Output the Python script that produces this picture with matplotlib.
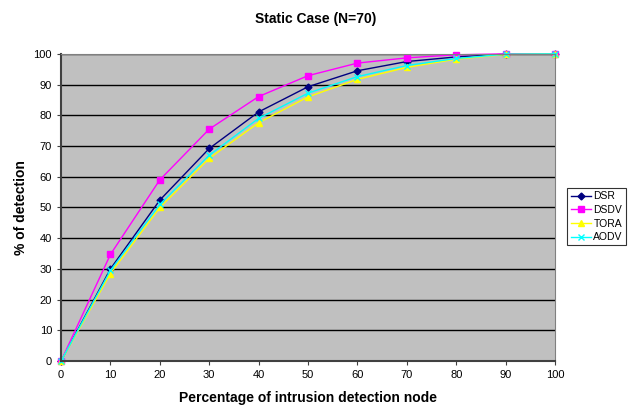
import numpy as np
import matplotlib.pyplot as plt

plt.rcParams['font.family'] = ['Liberation Sans', 'DejaVu Sans']

x = [0, 10, 20, 30, 40, 50, 60, 70, 80, 90, 100]
dsr = [0, 30, 52.4, 69.2, 81.1, 89.3, 94.5, 97.5, 99.0, 99.9, 100]
dsdv = [0, 34.7, 59, 75.5, 86.1, 92.9, 97.0, 98.7, 99.7, 100, 100]
tora = [0, 28.5, 50, 66, 77.6, 86.0, 91.7, 95.6, 98.3, 99.8, 100]
aodv = [0, 29.5, 51, 67, 79, 87.2, 92.6, 96.2, 98.5, 99.9, 100]

fig = plt.figure(figsize=(6.31, 4.08), dpi=100)
ax = fig.add_axes([0.0967, 0.115, 0.783, 0.753])
ax.set_facecolor('#C0C0C0')

ax.plot(x, dsr, color='#000080', marker='D', markersize=3.5, lw=1, label='DSR', clip_on=False)
ax.plot(x, dsdv, color='#FF00FF', marker='s', markersize=4.5, lw=1, label='DSDV', clip_on=False)
ax.plot(x, tora, color='#FFFF00', marker='^', markersize=4.5, lw=1, label='TORA', clip_on=False)
ax.plot(x, aodv, color='#00FFFF', marker='x', markersize=4.5, lw=1, label='AODV', clip_on=False)

ax.set_xlim(0, 100)
ax.set_ylim(0, 100)
ax.set_xticks(np.arange(0, 101, 10))
ax.set_yticks(np.arange(0, 101, 10))
ax.tick_params(labelsize=8, length=3, color='#404040')
ax.yaxis.grid(True, color='black', lw=1)
ax.set_axisbelow(True)
for s in ['top', 'right']:
    ax.spines[s].set_color('#808080')
for s in ['left', 'bottom']:
    ax.spines[s].set_color('#404040')
    ax.spines[s].set_linewidth(1.5)

ax.set_xlabel('Percentage of intrusion detection node', fontsize=10, fontweight='bold', labelpad=8)
ax.set_ylabel('% of detection', fontsize=10, fontweight='bold')
fig.suptitle('Static Case (N=70)', fontsize=10, fontweight='bold', y=0.97)

leg = ax.legend(loc='center left', bbox_to_anchor=(1.025, 0.47), fontsize=7.5,
                frameon=True, fancybox=False, edgecolor='black',
                handlelength=2.0, borderpad=0.3, labelspacing=0.35, handletextpad=0.2,
                borderaxespad=0)
leg.get_frame().set_linewidth(0.8)

fig.savefig('out.png', dpi=100)
